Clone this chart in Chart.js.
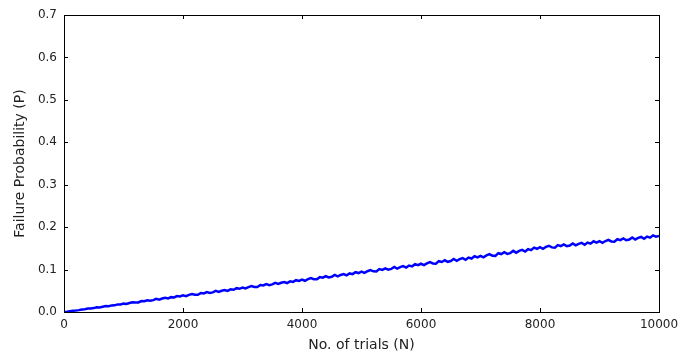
<!DOCTYPE html>
<html>
<head>
<meta charset="utf-8">
<script src="https://cdn.jsdelivr.net/npm/chart.js@4/dist/chart.umd.min.js"></script>
<style>
  html, body { margin: 0; padding: 0; background: #ffffff; }
  #wrap { width: 680px; height: 360px; }
</style>
</head>
<body>
<div id="wrap"><canvas id="c" width="680" height="360"></canvas></div>
<script>
// Number of trials between samples
const trialStep = 50;

// Estimated failure probability after each sample of trials (0 .. 10000)
const failureProb = [
  0.0000, 0.0006, 0.0020, 0.0032, 0.0036, 0.0044, 0.0060, 0.0066, 0.0080, 0.0083,
  0.0092, 0.0113, 0.0108, 0.0125, 0.0139, 0.0135, 0.0156, 0.0157, 0.0179, 0.0178,
  0.0197, 0.0189, 0.0213, 0.0231, 0.0222, 0.0226, 0.0257, 0.0254, 0.0277, 0.0267,
  0.0279, 0.0310, 0.0292, 0.0317, 0.0334, 0.0318, 0.0350, 0.0343, 0.0376, 0.0366,
  0.0391, 0.0373, 0.0403, 0.0425, 0.0407, 0.0407, 0.0448, 0.0439, 0.0468, 0.0448,
  0.0463, 0.0497, 0.0474, 0.0501, 0.0519, 0.0498, 0.0534, 0.0524, 0.0562, 0.0547,
  0.0574, 0.0554, 0.0587, 0.0611, 0.0590, 0.0590, 0.0636, 0.0625, 0.0657, 0.0634,
  0.0650, 0.0687, 0.0660, 0.0689, 0.0708, 0.0683, 0.0722, 0.0709, 0.0750, 0.0733,
  0.0762, 0.0736, 0.0774, 0.0800, 0.0773, 0.0770, 0.0822, 0.0808, 0.0843, 0.0814,
  0.0830, 0.0874, 0.0840, 0.0873, 0.0895, 0.0864, 0.0909, 0.0892, 0.0940, 0.0918,
  0.0951, 0.0921, 0.0961, 0.0988, 0.0958, 0.0954, 0.1010, 0.0993, 0.1030, 0.0998,
  0.1015, 0.1061, 0.1023, 0.1059, 0.1081, 0.1047, 0.1095, 0.1076, 0.1127, 0.1103,
  0.1137, 0.1104, 0.1147, 0.1176, 0.1143, 0.1138, 0.1198, 0.1179, 0.1219, 0.1183,
  0.1201, 0.1249, 0.1208, 0.1246, 0.1269, 0.1231, 0.1282, 0.1260, 0.1314, 0.1287,
  0.1323, 0.1288, 0.1333, 0.1364, 0.1328, 0.1323, 0.1386, 0.1366, 0.1408, 0.1370,
  0.1388, 0.1441, 0.1398, 0.1439, 0.1465, 0.1425, 0.1481, 0.1459, 0.1518, 0.1490,
  0.1528, 0.1490, 0.1533, 0.1561, 0.1523, 0.1515, 0.1576, 0.1553, 0.1593, 0.1552,
  0.1568, 0.1617, 0.1570, 0.1607, 0.1629, 0.1585, 0.1637, 0.1611, 0.1666, 0.1634,
  0.1668, 0.1630, 0.1673, 0.1701, 0.1663, 0.1655, 0.1716, 0.1693, 0.1733, 0.1692,
  0.1708, 0.1757, 0.1710, 0.1747, 0.1769, 0.1725, 0.1777, 0.1751, 0.1806, 0.1774,
  0.1795
];

// Axis tick values
const xTicks = [0, 2000, 4000, 6000, 8000, 10000];
const yTicks = [0.0, 0.1, 0.2, 0.3, 0.4, 0.5, 0.6, 0.7];

const points = failureProb.map((p, i) => ({ x: i * trialStep, y: p }));

// Boxed frame with inward tick marks on all four sides
const frameTicks = {
  id: 'frameTicks',
  afterDraw(chart) {
    const { ctx, chartArea: a, scales } = chart;
    const len = 4;
    ctx.save();
    ctx.strokeStyle = '#000000';
    ctx.lineWidth = 1;
    ctx.beginPath();
    xTicks.forEach(v => {
      const px = Math.round(scales.x.getPixelForValue(v)) + 0.5;
      ctx.moveTo(px, a.bottom); ctx.lineTo(px, a.bottom - len);
      ctx.moveTo(px, a.top); ctx.lineTo(px, a.top + len);
    });
    yTicks.forEach(v => {
      const py = Math.round(scales.y.getPixelForValue(v)) + 0.5;
      ctx.moveTo(a.left, py); ctx.lineTo(a.left + len, py);
      ctx.moveTo(a.right, py); ctx.lineTo(a.right - len, py);
    });
    ctx.stroke();
    ctx.strokeRect(Math.round(a.left) + 0.5, Math.round(a.top) + 0.5,
                   Math.round(a.right - a.left), Math.round(a.bottom - a.top));
    ctx.restore();
  }
};

const tickFont = { family: 'DejaVu Sans', size: 12 };
const titleFont = { family: 'DejaVu Sans', size: 14 };

new Chart(document.getElementById('c'), {
  type: 'line',
  data: {
    datasets: [{
      data: points,
      borderColor: '#0000ff',
      borderWidth: 2.5,
      pointRadius: 0,
      tension: 0,
      fill: false
    }]
  },
  options: {
    responsive: false,
    animation: false,
    events: [],
    layout: { padding: { left: 0, right: 21, top: 15, bottom: 0 } },
    plugins: { legend: { display: false }, tooltip: { enabled: false } },
    scales: {
      x: {
        type: 'linear',
        min: 0, max: 10000,
        afterBuildTicks: s => { s.ticks = xTicks.map(v => ({ value: v })); },
        afterFit: s => { s.height = 48; s.paddingLeft = 0; s.paddingRight = 0; },
        grid: { display: false, drawTicks: false },
        border: { display: false },
        ticks: { font: tickFont, color: '#222222', padding: 6, maxRotation: 0,
                 callback: v => String(v) },
        title: { display: true, text: 'No. of trials (N)', font: titleFont,
                 color: '#222222', padding: { top: 0, bottom: 6 } }
      },
      y: {
        type: 'linear',
        min: 0, max: 0.7,
        afterBuildTicks: s => { s.ticks = yTicks.map(v => ({ value: v })); },
        afterFit: s => { s.width = 64; s.paddingTop = 0; s.paddingBottom = 0; },
        grid: { display: false, drawTicks: false },
        border: { display: false },
        ticks: { font: tickFont, color: '#222222', padding: 7,
                 callback: v => Number(v).toFixed(1) },
        title: { display: true, text: 'Failure Probability (P)', font: titleFont,
                 color: '#222222', padding: { top: 12, bottom: 0 } }
      }
    }
  },
  plugins: [frameTicks]
});
</script>
</body>
</html>
